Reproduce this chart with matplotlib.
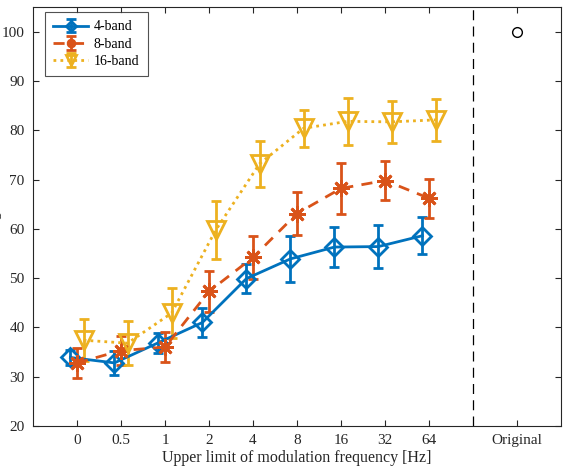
import numpy as np
import matplotlib
matplotlib.use('Agg')
import matplotlib.pyplot as plt

plt.rcParams['font.family'] = ['Liberation Serif', 'DejaVu Serif']
plt.rcParams['mathtext.fontset'] = 'stix'

# upper limit of modulation frequency (categorical)
freq_labels = ['0', '0.5', '1', '2', '4', '8', '16', '32', '64']

band4_mean = [33.9, 32.8, 36.9, 41.0, 49.9, 53.9, 56.3, 56.4, 58.6]
band4_err = [1.6, 2.5, 2.0, 2.9, 2.9, 4.6, 4.1, 4.3, 3.8]

band8_mean = [32.8, 35.3, 36.0, 47.3, 54.2, 63.1, 68.2, 69.8, 66.2]
band8_err = [3.0, 3.0, 3.0, 4.1, 4.3, 4.4, 5.1, 3.9, 4.0]

band16_mean = [37.4, 36.8, 42.9, 59.7, 73.2, 80.4, 81.8, 81.7, 82.1]
band16_err = [4.3, 4.4, 5.0, 5.9, 4.7, 3.8, 4.7, 4.2, 4.2]

original_score = 100

colors = ['#0072BD', '#D95319', '#EDB120']

fig = plt.figure(figsize=(5.67, 4.69), dpi=100)
ax = fig.add_axes([33 / 567, 43 / 469, 528 / 567, 419 / 469])

x = np.arange(1, len(freq_labels) + 1)
shift = 0.15

ax.errorbar(x - shift, band4_mean, yerr=band4_err, color=colors[0], ls='-',
            lw=2, marker='D', ms=9, mfc='none', mew=2, capsize=3.5,
            capthick=2, elinewidth=2, label='4-band')
ax.errorbar(x, band8_mean, yerr=band8_err, color=colors[1], ls=(0, (4, 3)),
            lw=2, marker=(8, 2, 0), ms=12, mew=2, capsize=3.5,
            capthick=2, elinewidth=2, label='8-band')
ax.errorbar(x + shift, band16_mean, yerr=band16_err, color=colors[2],
            ls=(0, (1, 1.5)), lw=2, marker='v', ms=13, mfc='none', mew=2,
            capsize=3.5, capthick=2, elinewidth=2, label='16-band')

ax.plot([11], [original_score], 'o', ms=7, mfc='none', mec='k', mew=1)
ax.axvline(10, color='k', ls=(0, (8, 5)), lw=0.9)

ax.set_xlim(0, 12)
ax.set_ylim(20, 105)
ax.set_xticks(list(x) + [11])
ax.set_xticklabels(freq_labels + ['Original'])
ax.set_yticks(np.arange(20, 101, 10))

axcol = '#262626'
for sp in ax.spines.values():
    sp.set_color(axcol)
    sp.set_linewidth(0.8)
ax.tick_params(direction='in', top=True, right=True, length=4, width=0.8,
               color=axcol, labelsize=11, labelcolor=axcol, pad=6)

ax.set_xlabel('Upper limit of modulation frequency [Hz]', fontsize=11.5,
              color=axcol, labelpad=2)
# label sits mostly past the left edge, as in the source figure
ax.set_ylabel('Word recognition [%]', fontsize=11.5, color=axcol)
ax.yaxis.set_label_coords(-0.058, 0.5)

leg = ax.legend(loc='upper left', fontsize=10, frameon=True, fancybox=False,
                handlelength=2.5, borderpad=0.6, labelspacing=0.3,
                handletextpad=0.4, markerscale=0.55, borderaxespad=0,
                bbox_to_anchor=(0.023, 0.988))
leg.get_frame().set_edgecolor(axcol)
leg.get_frame().set_linewidth(0.8)

fig.savefig('out.png', dpi=100)
